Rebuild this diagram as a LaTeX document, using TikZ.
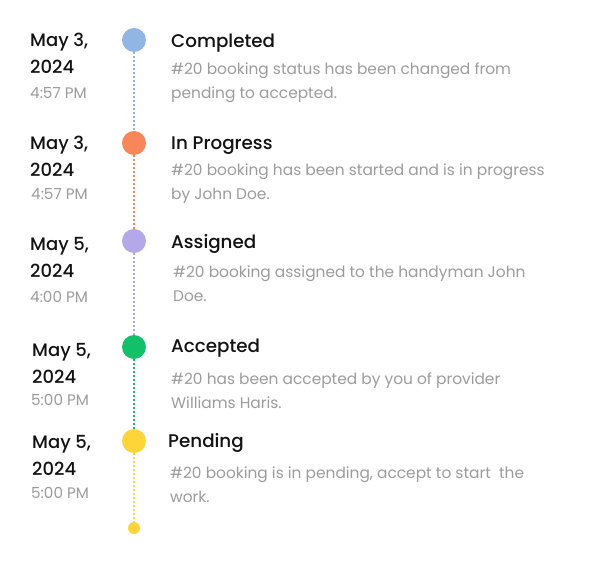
\documentclass[tikz,border=0pt]{standalone}
\usepackage{fontspec}
\setmainfont{Poppins}
\newfontfamily\medfont{Poppins}[UprightFont=* Medium]
\usepackage{tikz}
\usetikzlibrary{positioning}
\definecolor{doneblue}{HTML}{92B6E4}
\definecolor{progorange}{HTML}{F8865B}
\definecolor{assignpurple}{HTML}{B4A8EA}
\definecolor{acceptgreen}{HTML}{13C06A}
\definecolor{pendyellow}{HTML}{FDD538}
\definecolor{infogrey}{HTML}{9C9C9C}

\begin{document}
\begin{tikzpicture} [x = 1pt, y = -1pt, inner sep = 0pt,
	dot/.style = {circle, fill = #1, minimum size = 24pt},
	headline/.style = {anchor = base west, font = \medfont\fontsize{18.3}{18}\selectfont, text = black!93},
	info/.style = {anchor = base west, align = left, font = \fontsize{15.4}{24}\selectfont, text = infogrey},
	day/.style = {anchor = base west, align = left, font = \medfont\fontsize{18}{27}\selectfont, text = black!93},
	hour/.style = {anchor = base west, font = \fontsize{15.2}{15}\selectfont, text = infogrey},
	link/.style = {draw = #1, line width = 1.3pt, dash pattern = on 2pt off 2pt}]
			% Page frame
			\useasboundingbox [fill = white] (0,0) rectangle (600,561);
			% Circles of the timeline
			\node (c1) [dot = doneblue] at (134,40) {};
			\node (c2) [dot = progorange] at (134,143) {};
			\node (c3) [dot = assignpurple] at (134,241) {};
			\node (c4) [dot = acceptgreen] at (134,347) {};
			\node (c5) [dot = pendyellow] at (134,441) {};
			\node (end) [dot = pendyellow, minimum size = 12pt] at (134,528) {};
			% Dotted connections
			\path [link = doneblue] (c1) -- (c2);
			\path [link = progorange] (c2) -- (c3);
			\path [link = assignpurple] (c3) -- (c4);
			\path [link = acceptgreen] (c4) -- (c5);
			\path [link = pendyellow] (c5) -- (end);
			% Status titles
			\node (t1) [headline] at (171,48) {Completed};
			\node (t2) [headline] at (171,150) {In Progress};
			\node (t3) [headline] at (171,249) {Assigned};
			\node (t4) [headline] at (171,353) {Accepted};
			\node (t5) [headline] at (168,447) {Pending};
			% Descriptions (anchored at the last line)
			\node (d1) [info] at (171,99) {\#20 booking status has been changed from\\pending to accepted.};
			\node (d2) [info] at (171,200) {\#20 booking has been started and is in progress\\by John Doe.};
			\node (d3) [info] at (173,302) {\#20 booking assigned to the handyman John\\Doe.};
			\node (d4) [info] at (171,408) {\#20 has been accepted by you of provider\\Williams Haris.};
			\node (d5) [info] at (170,502) {\#20 booking is in pending, accept to start\ \ the\\work.};
			% Dates (anchored at the year)
			\node (m1) [day] at (30,74) {May 3,\\2024};
			\node (m2) [day] at (30,177) {May 3,\\2024};
			\node (m3) [day] at (30,278) {May 5,\\2024};
			\node (m4) [day] at (32,384) {May 5,\\2024};
			\node (m5) [day] at (32,475) {May 5,\\2024};
			% Times
			\node (h1) [hour] at (30,99) {4:57 PM};
			\node (h2) [hour] at (31,200) {4:57 PM};
			\node (h3) [hour] at (30,303) {4:00 PM};
			\node (h4) [hour] at (31,406) {5:00 PM};
			\node (h5) [hour] at (31,498) {5:00 PM};
		\end{tikzpicture}
\end{document}
